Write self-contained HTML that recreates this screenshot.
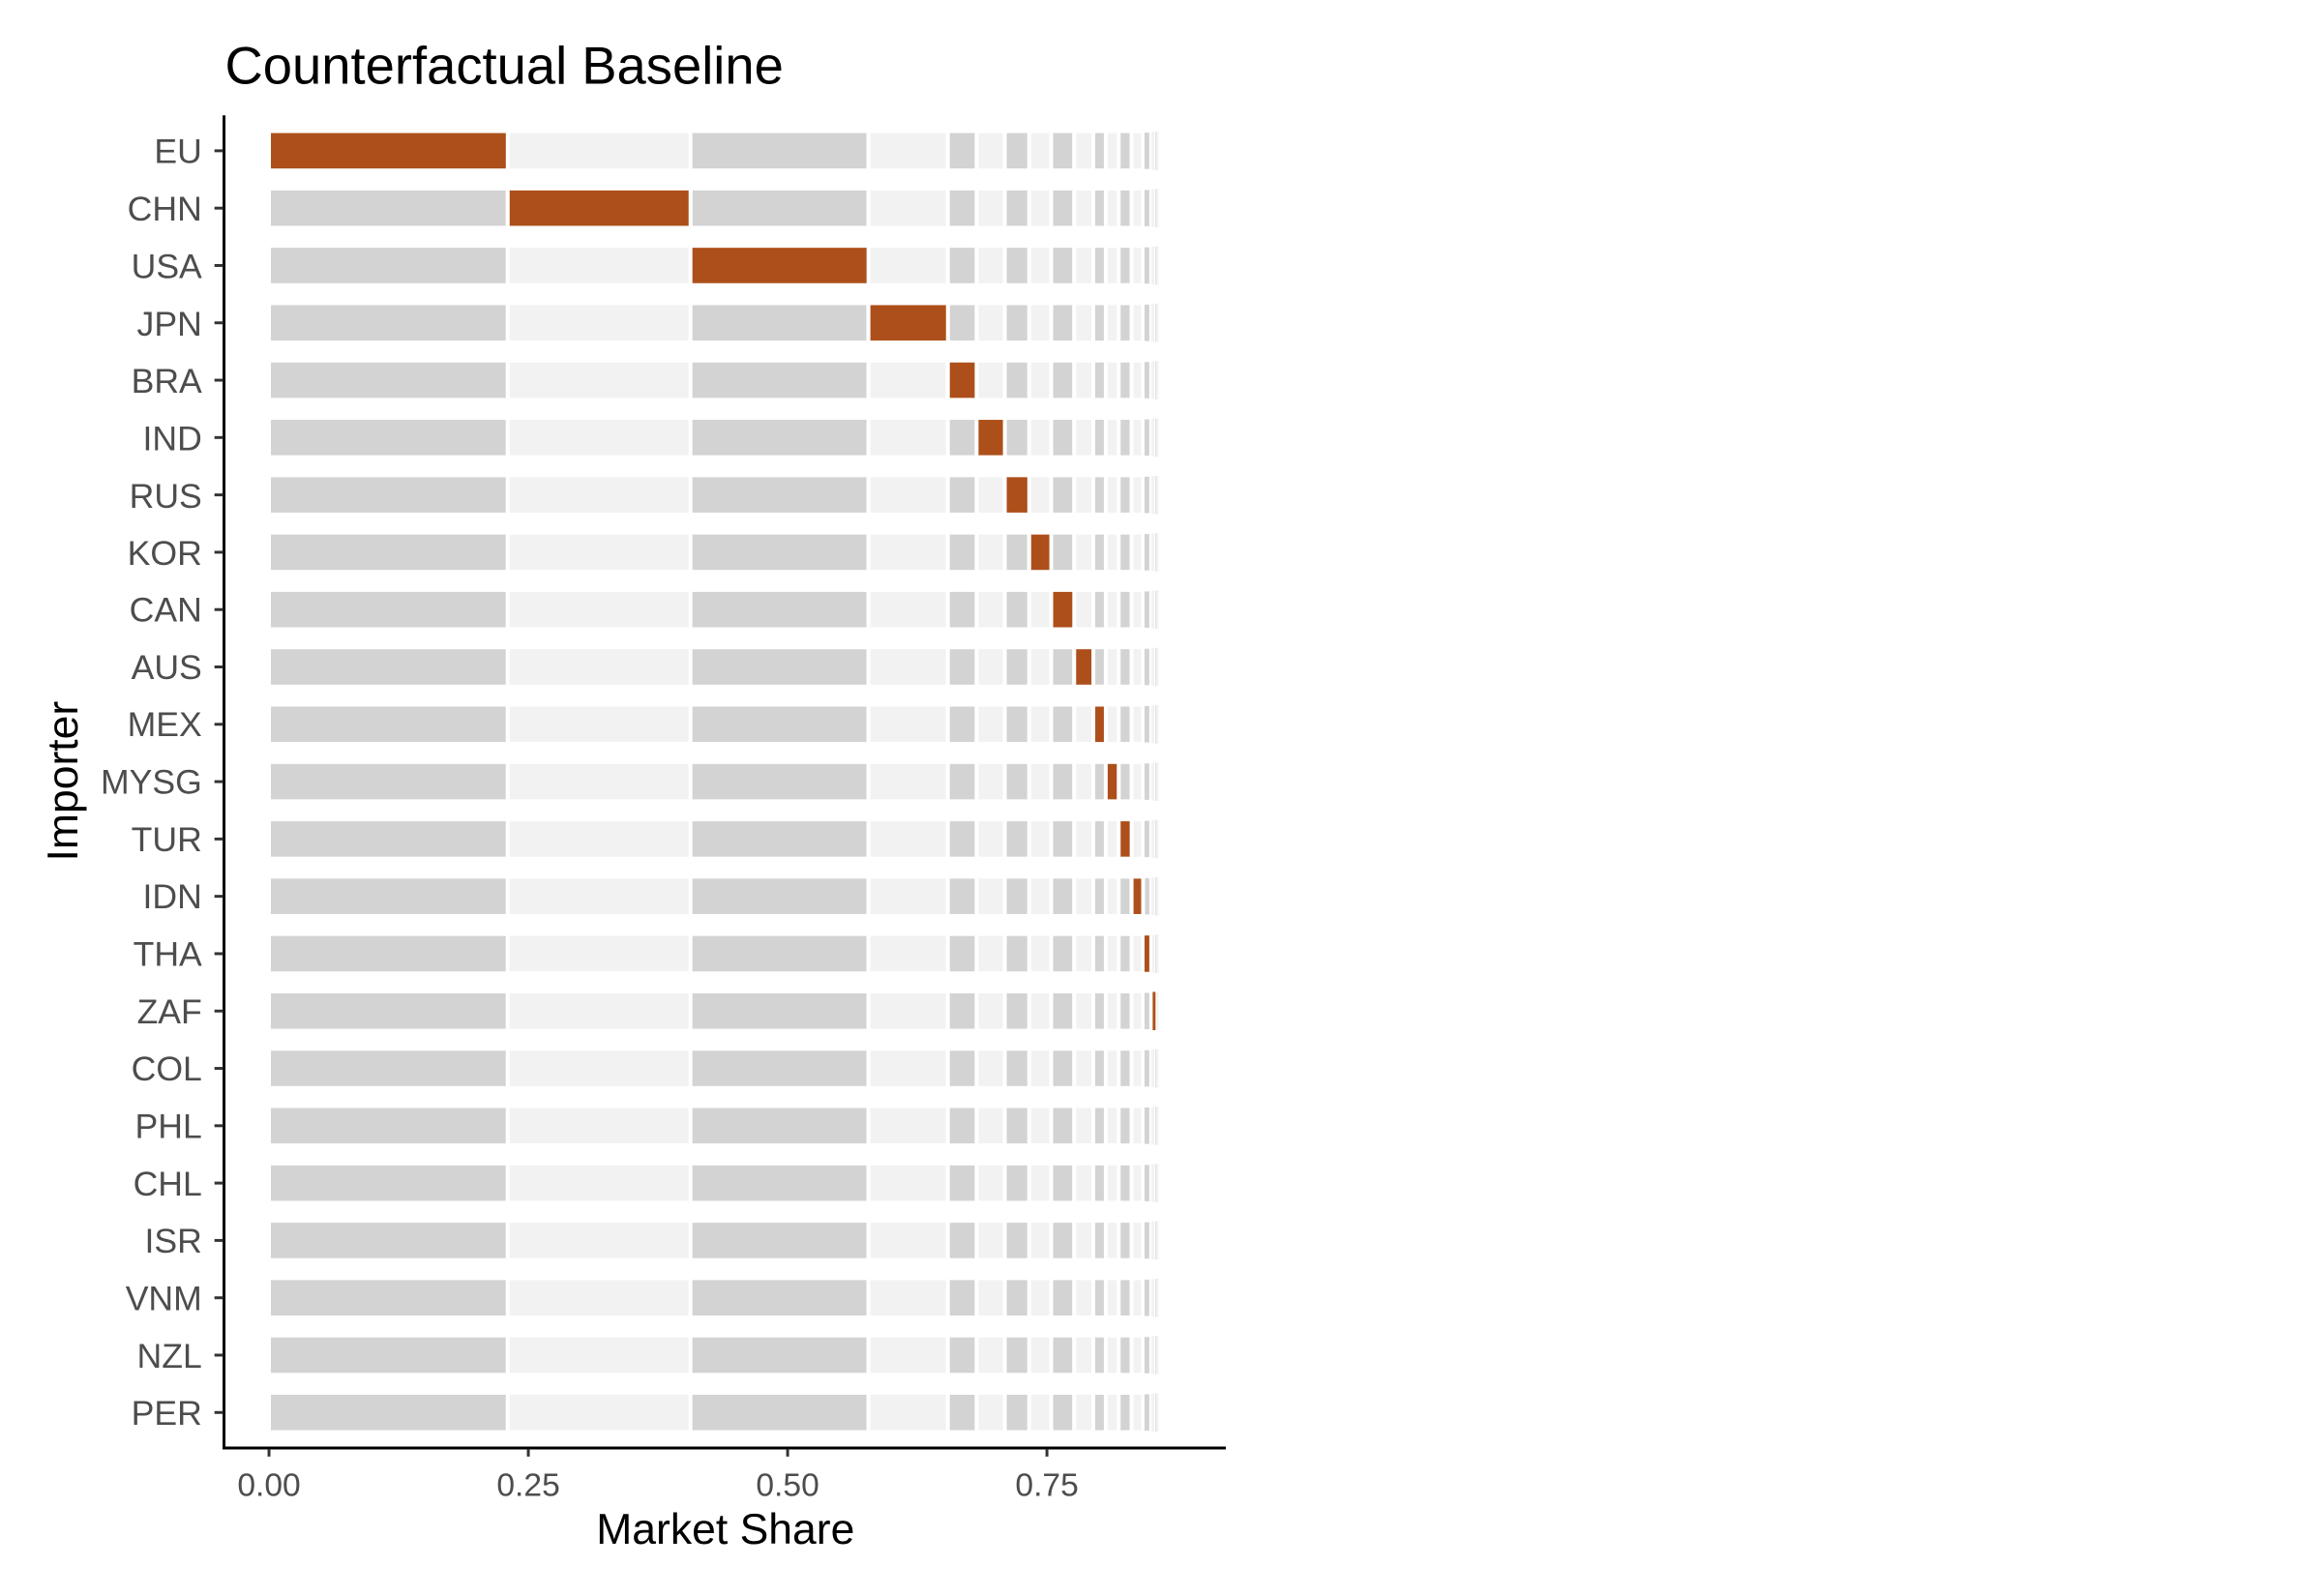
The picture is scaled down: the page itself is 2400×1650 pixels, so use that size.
<!DOCTYPE html>
<html><head><meta charset="utf-8"><style>html,body{margin:0;padding:0;background:#fff}svg{display:block}</style></head>
<body>
<svg width="2400" height="1650" xmlns="http://www.w3.org/2000/svg" xmlns:xlink="http://www.w3.org/1999/xlink" font-family="Liberation Sans, sans-serif">
<rect width="2400" height="1650" fill="#fff"/>
<defs>
<g id="row" stroke="#fff">
<rect x="278" y="-20.5" width="249.5" height="41" fill="#D3D3D3" stroke-width="4"/>
<rect x="527.5" y="-20.5" width="191" height="41" fill="#F2F2F2" stroke-width="4"/>
<rect x="718.5" y="-20.5" width="186" height="41" fill="#D3D3D3" stroke-width="4"/>
<rect x="904.5" y="-20.5" width="83" height="41" fill="#F2F2F2" stroke-width="4"/>
<rect x="987.5" y="-20.5" width="30" height="41" fill="#D3D3D3" stroke-width="4"/>
<rect x="1017.5" y="-20.5" width="29.5" height="41" fill="#F2F2F2" stroke-width="4"/>
<rect x="1047" y="-20.5" width="25.5" height="41" fill="#D3D3D3" stroke-width="4"/>
<rect x="1072.5" y="-20.5" width="23" height="41" fill="#F2F2F2" stroke-width="4"/>
<rect x="1095.5" y="-20.5" width="24" height="41" fill="#D3D3D3" stroke-width="4"/>
<rect x="1119.5" y="-20.5" width="20" height="41" fill="#F2F2F2" stroke-width="4"/>
<rect x="1139.5" y="-20.5" width="13" height="41" fill="#D3D3D3" stroke-width="4"/>
<rect x="1152.5" y="-20.5" width="13.5" height="41" fill="#F2F2F2" stroke-width="4"/>
<rect x="1166" y="-20.5" width="13.5" height="41" fill="#D3D3D3" stroke-width="4"/>
<rect x="1179.5" y="-20.5" width="12" height="41" fill="#F2F2F2" stroke-width="4"/>
<rect x="1191.5" y="-20.5" width="8" height="41" fill="#D3D3D3" stroke-width="3"/>
<rect x="1199.5" y="-20.5" width="4.5" height="41" fill="#F2F2F2" stroke-width="1.5"/>
<rect x="1204" y="-20.5" width="2" height="41" fill="#D3D3D3" stroke-width="1"/>
<rect x="1206" y="-20.5" width="2" height="41" fill="#F2F2F2" stroke-width="0.5"/>
</g>
</defs>
<g transform="translate(3.1,1.6) scale(0.989)">
<text x="232" y="86" font-size="55" fill="#000">Counterfactual Baseline</text>
<use xlink:href="#row" href="#row" transform="translate(0,156)"/>
<use xlink:href="#row" href="#row" transform="translate(0,215.95)"/>
<use xlink:href="#row" href="#row" transform="translate(0,275.9)"/>
<use xlink:href="#row" href="#row" transform="translate(0,335.85)"/>
<use xlink:href="#row" href="#row" transform="translate(0,395.8)"/>
<use xlink:href="#row" href="#row" transform="translate(0,455.75)"/>
<use xlink:href="#row" href="#row" transform="translate(0,515.7)"/>
<use xlink:href="#row" href="#row" transform="translate(0,575.65)"/>
<use xlink:href="#row" href="#row" transform="translate(0,635.6)"/>
<use xlink:href="#row" href="#row" transform="translate(0,695.55)"/>
<use xlink:href="#row" href="#row" transform="translate(0,755.5)"/>
<use xlink:href="#row" href="#row" transform="translate(0,815.45)"/>
<use xlink:href="#row" href="#row" transform="translate(0,875.4)"/>
<use xlink:href="#row" href="#row" transform="translate(0,935.35)"/>
<use xlink:href="#row" href="#row" transform="translate(0,995.3)"/>
<use xlink:href="#row" href="#row" transform="translate(0,1055.25)"/>
<use xlink:href="#row" href="#row" transform="translate(0,1115.2)"/>
<use xlink:href="#row" href="#row" transform="translate(0,1175.15)"/>
<use xlink:href="#row" href="#row" transform="translate(0,1235.1)"/>
<use xlink:href="#row" href="#row" transform="translate(0,1295.05)"/>
<use xlink:href="#row" href="#row" transform="translate(0,1355)"/>
<use xlink:href="#row" href="#row" transform="translate(0,1414.95)"/>
<use xlink:href="#row" href="#row" transform="translate(0,1474.9)"/>
<g fill="#AD4F1A" stroke="#fff" stroke-width="4">
<rect x="278" y="135.5" width="249.5" height="41"/>
<rect x="527.5" y="195.45" width="191" height="41"/>
<rect x="718.5" y="255.4" width="186" height="41"/>
<rect x="904.5" y="315.35" width="83" height="41"/>
<rect x="987.5" y="375.3" width="30" height="41"/>
<rect x="1017.5" y="435.25" width="29.5" height="41"/>
<rect x="1047" y="495.2" width="25.5" height="41"/>
<rect x="1072.5" y="555.15" width="23" height="41"/>
<rect x="1095.5" y="615.1" width="24" height="41"/>
<rect x="1119.5" y="675.05" width="20" height="41"/>
<rect x="1139.5" y="735" width="13" height="41"/>
<rect x="1152.5" y="794.95" width="13.5" height="41"/>
<rect x="1166" y="854.9" width="13.5" height="41"/>
<rect x="1179.5" y="914.85" width="12" height="41"/>
<rect x="1191.5" y="974.8" width="8" height="41" stroke-width="3"/>
<rect x="1201" y="1034.75" width="4" height="41" stroke-width="1"/>
</g>
<line x1="231" y1="119" x2="231" y2="1513" stroke="#000" stroke-width="3"/>
<line x1="229.5" y1="1512" x2="1278" y2="1512" stroke="#000" stroke-width="3"/>
<g font-size="36" fill="#4d4d4d" text-anchor="end">
<text x="208" y="169">EU</text><text x="208" y="229">CHN</text><text x="208" y="289">USA</text><text x="208" y="349">JPN</text>
<text x="208" y="409">BRA</text><text x="208" y="469">IND</text><text x="208" y="529">RUS</text><text x="208" y="589">KOR</text>
<text x="208" y="648">CAN</text><text x="208" y="708">AUS</text><text x="208" y="768">MEX</text><text x="208" y="828">MYSG</text>
<text x="208" y="888">TUR</text><text x="208" y="948">IDN</text><text x="208" y="1008">THA</text><text x="208" y="1068">ZAF</text>
<text x="208" y="1128">COL</text><text x="208" y="1188">PHL</text><text x="208" y="1248">CHL</text><text x="208" y="1308">ISR</text>
<text x="208" y="1368">VNM</text><text x="208" y="1428">NZL</text><text x="208" y="1488">PER</text>
</g>
<g stroke="#333" stroke-width="3">
<line x1="221" y1="156" x2="230" y2="156"/><line x1="221" y1="215.95" x2="230" y2="215.95"/><line x1="221" y1="275.9" x2="230" y2="275.9"/><line x1="221" y1="335.85" x2="230" y2="335.85"/>
<line x1="221" y1="395.8" x2="230" y2="395.8"/><line x1="221" y1="455.75" x2="230" y2="455.75"/><line x1="221" y1="515.7" x2="230" y2="515.7"/><line x1="221" y1="575.65" x2="230" y2="575.65"/>
<line x1="221" y1="635.6" x2="230" y2="635.6"/><line x1="221" y1="695.55" x2="230" y2="695.55"/><line x1="221" y1="755.5" x2="230" y2="755.5"/><line x1="221" y1="815.45" x2="230" y2="815.45"/>
<line x1="221" y1="875.4" x2="230" y2="875.4"/><line x1="221" y1="935.35" x2="230" y2="935.35"/><line x1="221" y1="995.3" x2="230" y2="995.3"/><line x1="221" y1="1055.25" x2="230" y2="1055.25"/>
<line x1="221" y1="1115.2" x2="230" y2="1115.2"/><line x1="221" y1="1175.15" x2="230" y2="1175.15"/><line x1="221" y1="1235.1" x2="230" y2="1235.1"/><line x1="221" y1="1295.05" x2="230" y2="1295.05"/>
<line x1="221" y1="1355" x2="230" y2="1355"/><line x1="221" y1="1414.95" x2="230" y2="1414.95"/><line x1="221" y1="1474.9" x2="230" y2="1474.9"/>
<line x1="278" y1="1513" x2="278" y2="1521"/><line x1="549" y1="1513" x2="549" y2="1521"/><line x1="820" y1="1513" x2="820" y2="1521"/><line x1="1091" y1="1513" x2="1091" y2="1521"/>
</g>
<g font-size="34" fill="#4d4d4d" text-anchor="middle">
<text x="278" y="1562">0.00</text><text x="549" y="1562">0.25</text><text x="820" y="1562">0.50</text><text x="1091" y="1562">0.75</text>
</g>
<text x="755" y="1612" font-size="45" text-anchor="middle" fill="#000">Market Share</text>
<text transform="translate(78,815) rotate(-90)" font-size="45" text-anchor="middle" fill="#000">Importer</text>
</g>
</svg>
</body></html>
